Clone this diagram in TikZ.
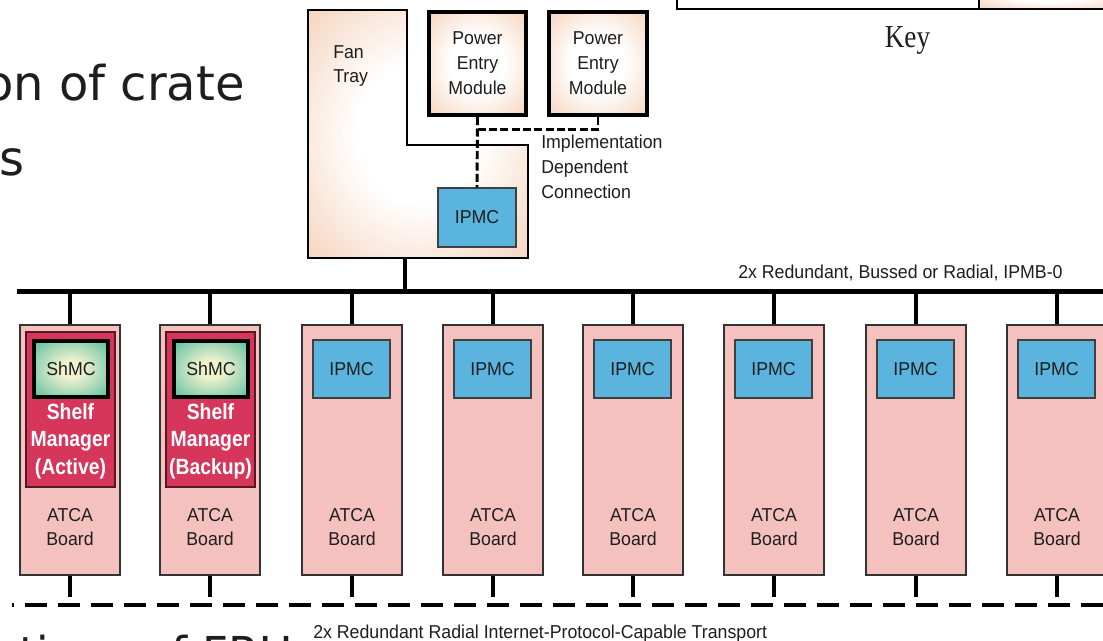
\documentclass[tikz,border=0pt]{standalone}
\usepackage{fontspec}
\newfontfamily\lab[FakeStretch=0.95]{Liberation Sans}
\newfontfamily\labc[FakeStretch=0.88]{Liberation Sans}
\newfontfamily\keyfont[FakeStretch=0.85]{Liberation Serif}
\newfontfamily\slidefont{DejaVu Sans}
\usetikzlibrary{calc}
\definecolor{boardpink}{RGB}{245,193,190}
\definecolor{ipmcblue}{RGB}{90,180,222}
\definecolor{shelfred}{RGB}{214,54,90}
\definecolor{peach}{RGB}{242,196,165}
\definecolor{tealc}{RGB}{55,176,150}
\definecolor{tealin}{RGB}{238,242,205}
\definecolor{inkc}{RGB}{30,30,30}
\pgfdeclareradialshading{peachglow}{\pgfpoint{0bp}{0bp}}{color(0bp)=(white); color(14bp)=(white); color(44bp)=(peach); color(50bp)=(peach)}
\pgfdeclareradialshading{tealglow}{\pgfpoint{0bp}{0bp}}{color(0bp)=(tealin); color(8bp)=(tealin); color(42bp)=(tealc); color(50bp)=(tealc)}
\tikzset{
  lbl/.style={font=\lab\fontsize{14pt}{18.5pt}\selectfont, text=inkc, inner sep=0pt},
  board/.style={draw=black!80, line width=1.1pt, fill=boardpink, minimum width=75pt, minimum height=187.5pt, inner sep=0pt},
  ipmc/.style={draw=black!75, line width=1.1pt, fill=ipmcblue, minimum width=57.75pt, minimum height=43.5pt, inner sep=0pt, font=\lab\fontsize{14pt}{17pt}\selectfont, text=inkc},
  shelfbox/.style={draw=black!60!shelfred, line width=1.1pt, fill=shelfred, minimum width=66.75pt, minimum height=116.25pt, inner sep=0pt},
  shmcbox/.style={draw=black, line width=3pt, shade, shading=tealglow, minimum width=56pt, minimum height=42.5pt, inner sep=0pt, font=\lab\fontsize{14pt}{17pt}\selectfont, text=inkc},
  shelftxt/.style={anchor=north, align=center, inner sep=0pt, text=white, font=\labc\bfseries\fontsize{16.5pt}{20.6pt}\selectfont},
  pem/.style={draw=black, line width=3pt, shade, shading=peachglow, minimum width=73pt, minimum height=77.5pt, inner sep=0pt, align=center, font=\lab\fontsize{14pt}{18.75pt}\selectfont, text=inkc},
  busline/.style={line width=3.75pt},
  stubtop/.style={line width=3pt},
  stubbot/.style={line width=2.6pt},
  transport/.style={line width=3pt, dash pattern=on 16.5pt off 8.25pt, dash phase=15pt},
  implconn/.style={line width=2.2pt, dash pattern=on 6pt off 2.5pt},
  slidetxt/.style={inner sep=0pt, text=inkc, font=\slidefont\fontsize{36pt}{43pt}\selectfont},
}
\begin{document}
\begin{tikzpicture}[x=0.75pt,y=-0.75pt]
\useasboundingbox (0,0) rectangle (1103,640);
\clip (0,0) rectangle (1103,640);
\fill[white] (0,0) rectangle (1103,640);

% slide text fragments
\node[slidetxt, anchor=base east] (line1) at (245,100) {on of crate};
\node[slidetxt, anchor=base west] (line2) at (-1,175) {s};
\node[slidetxt, anchor=base west, font=\slidefont\fontsize{34pt}{40pt}\selectfont] (line3) at (-86,669) {Locations of FRUs};

% key box fragment
\draw[line width=2.2pt, fill=white] (677,-20) rectangle (1120,9);
\shade[shading=peachglow] (979,-20) rectangle (1120,8);
\draw[line width=2.2pt] (979,-20) -- (979,9) -- (1120,9);
\node[inner sep=0pt, text=inkc, font=\keyfont\fontsize{24pt}{28pt}\selectfont, anchor=base] (key) at (907.5,47) {Key};

% fan tray
\shade[shading=peachglow] (308,10) -- (407,10) -- (407,145) -- (528,145) -- (528,258) -- (308,258) -- cycle;
\draw[line width=1.9pt] (308,10) -- (407,10) -- (407,145) -- (528,145) -- (528,258) -- (308,258) -- cycle;
\coordinate (ftbottom) at (405,258);
\node[lbl, anchor=north west, align=left] (ftlabel) at (333,45) {Fan\\Tray};
\node[ipmc, minimum width=58.5pt, minimum height=44.25pt] (ipmc0) at (477,217.5) {IPMC};

% power entry modules
\node[pem] (pem1) at (477.5,63.5) {Power\\Entry\\Module};
\node[pem] (pem2) at (598,63.5) {Power\\Entry\\Module};
\path (pem1.south) ++(0,12) coordinate (j1);
\draw[implconn] (pem1.south) -- (ipmc0.north);
\draw[implconn] (j1) -| (pem2.south);
\node[lbl, anchor=north west, align=left] (impl) at (541,135) {Implementation\\Dependent\\Connection};

% IPMB-0 bus
\coordinate (busL) at (17,291);
\coordinate (busR) at (1110,291);
\draw[busline] (busL) -- (busR);
\draw[stubtop] (ftbottom) -- (ftbottom |- busL);
\node[lbl, anchor=base west] (buslabel) at (738,278) {2x Redundant, Bussed or Radial, IPMB-0};

% transport
\coordinate (tb) at (0,597);
\coordinate (trL) at (12,605);
\coordinate (trR) at (1110,605);
\draw[transport] (trL) -- (trR);
\node[lbl, anchor=base west] (trlabel) at (313,638) {2x Redundant Radial Internet-Protocol-Capable Transport};

% boards
\foreach \L [count=\i] in {20,160,302,443,583,724,866,1007}{
  \node[board] (b\i) at ({\L+50},450) {};
  \node[lbl, anchor=north, align=center] (lb\i) at ({\L+50},508) {ATCA\\Board};
  \draw[stubtop] (b\i.north) -- (b\i.north |- busL);
  \draw[stubbot] (b\i.south) -- (b\i.south |- tb);
}
\foreach \L/\i in {302/3,443/4,583/5,724/6,866/7,1007/8}{
  \node[ipmc] (ip\i) at ({\L+49.5},369) {IPMC};
}
\foreach \L/\i/\role in {20/1/Active,160/2/Backup}{
  \node[shelfbox] (sm\i) at ({\L+50.5},409.5) {};
  \node[shmcbox] (shmc\i) at ({\L+51},369) {ShMC};
  \node[shelftxt] (smt\i) at ({\L+50.5},403) {Shelf\\Manager\\(\role)};
}
\end{tikzpicture}
\end{document}
